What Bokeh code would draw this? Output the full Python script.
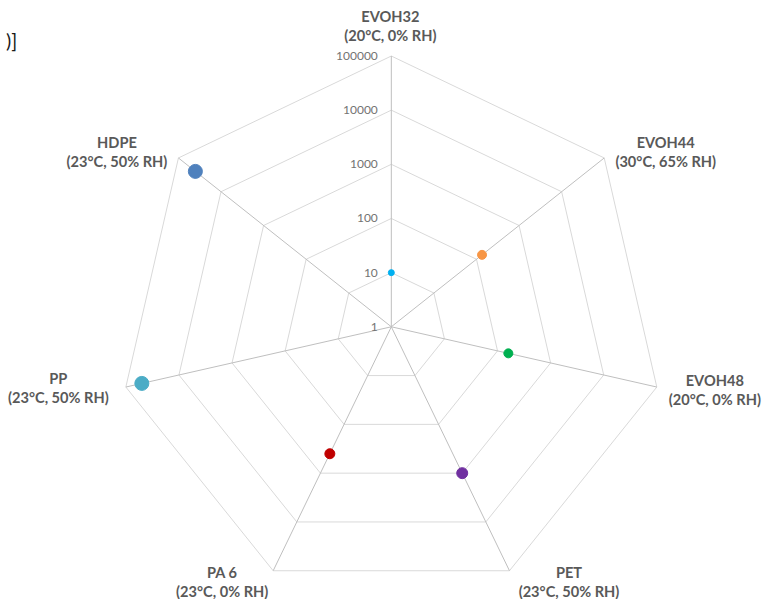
import numpy as np
from bokeh.plotting import figure
from bokeh.models import Range1d
from bokeh.core.properties import value
from bokeh.embed import file_html
from bokeh.resources import INLINE

# ---- data ----
categories = ["EVOH32", "EVOH44", "EVOH48", "PET", "PA 6", "PP", "HDPE"]
conditions = ["(20°C, 0% RH)", "(30°C, 65% RH)", "(20°C, 0% RH)", "(23°C, 50% RH)",
              "(23°C, 0% RH)", "(23°C, 50% RH)", "(23°C, 50% RH)"]
values = [10, 135, 160, 1000, 400, 50000, 40000]
tick_values = [1, 10, 100, 1000, 10000, 100000]
tick_labels = ["1", "10", "100", "1000", "10000", "100000"]
title_tail = ")]"

# ---- styles ----
colors = ["#00B0F0", "#F79646", "#00B050", "#7030A0", "#C00000", "#4BACC6", "#4F81BD"]
marker_sizes = [6, 9, 9, 11, 10, 14, 14]
label_offsets = [(-1, -30), (61.5, -6), (58, 3), (59.5, 11), (-51, 11), (-67.5, 1), (-61.5, -6)]

W, H = 765, 599
KX, KY = W / 781, H / 615
PXX, PXY = 55.6 * KX, 55.6 * KY     # pixels per decade
CX, CY = 399 * KX, 335 * KY         # centre in figure pixels

def px2x(px):
    return (px - CX) / PXX

def px2y(py):
    return (CY - py) / PXY

p = figure(width=W, height=H, output_backend="svg", toolbar_location=None,
           x_range=Range1d(px2x(0), px2x(W)), y_range=Range1d(px2y(H), px2y(0)),
           min_border=0, outline_line_color=None)
p.axis.visible = False
p.grid.visible = False
p.background_fill_color = "white"
p.border_fill_color = "white"

n = len(categories)
theta = 2 * np.pi * np.arange(n) / n
sx, sy = np.sin(theta), np.cos(theta)
rmax = np.log10(tick_values[-1])

# grid polygons
for tv in tick_values[1:]:
    r = np.log10(tv)
    xs = list(r * sx) + [r * sx[0]]
    ys = list(r * sy) + [r * sy[0]]
    p.line(xs, ys, line_color="#d9d9d9", line_width=1)

# spokes
p.multi_line([[0, rmax * sx[i]] for i in range(n)], [[0, rmax * sy[i]] for i in range(n)],
             line_color="#bfbfbf", line_width=1)

# tick labels
tr = [np.log10(t) for t in tick_values]
p.text(x=[0] * len(tr), y=tr, text=tick_labels, x_offset=-13.5, text_align="right",
       text_baseline="middle", text_font=value("Lato"), text_font_size="12px",
       text_color="#737373")

# category labels
font = dict(text_align="center", text_baseline="middle", text_font=value("Lato"),
            text_font_size="14.6px", text_font_style="bold", text_color="#595959")
for i in range(n):
    tx, ty = rmax * sx[i], rmax * sy[i]
    ox, oy = label_offsets[i]
    p.text(x=[tx], y=[ty], text=[categories[i]], x_offset=ox, y_offset=oy - 9.7, **font)
    p.text(x=[tx], y=[ty], text=[conditions[i]], x_offset=ox, y_offset=oy + 9.7, **font)

# data points
rv = np.log10(values)
p.scatter(x=rv * sx, y=rv * sy, size=marker_sizes, fill_color=colors, line_color=colors)

# truncated title tail
p.text(x=[px2x(16.7)], y=[px2y(39.5)], text=[title_tail], text_align="right",
       text_baseline="alphabetic", text_font=value("Lato"), text_font_size="19.5px",
       text_color="#1a1a1a")

open("out.html", "w").write(file_html(p, INLINE))
